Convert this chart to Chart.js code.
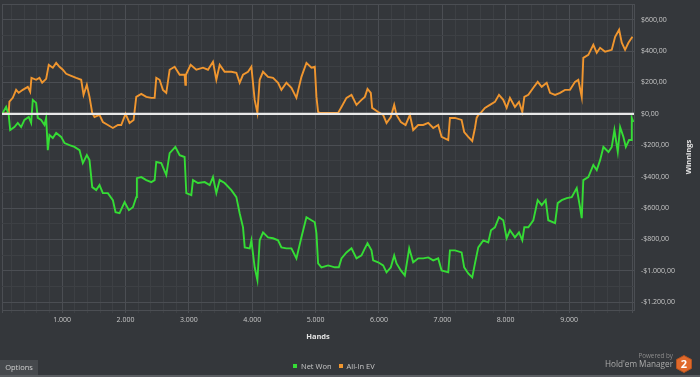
<!DOCTYPE html>
<html>
<head>
<meta charset="utf-8">
<script src="https://cdn.jsdelivr.net/npm/chart.js@4.4.0/dist/chart.umd.min.js"></script>
<style>
html,body{margin:0;padding:0;background:#34373b;width:700px;height:377px;overflow:hidden;font-family:"Open Sans",sans-serif;}
#wrap{position:relative;width:700px;height:377px;}
#c{position:absolute;left:0;top:0;}
#legend{position:absolute;left:293px;top:360px;height:12px;display:flex;align-items:center;font-size:7.5px;color:#c6c6c6;white-space:nowrap;}
#legend .sw{display:inline-block;width:4px;height:4px;margin-right:4px;}
#legend .it{display:flex;align-items:center;margin-right:7px;}
#options{position:absolute;left:0;top:360px;width:38px;height:15px;background:#46494d;color:#cfcfcf;font-size:7.5px;line-height:15px;text-align:center;}
#bline{position:absolute;left:0;top:375px;width:700px;height:2px;background:#5a5d61;}
#pw1{position:absolute;right:27px;top:352px;font-size:6.3px;color:#8c8c8c;line-height:8px;}
#pw2{position:absolute;right:27px;top:359px;font-size:8.2px;color:#ababab;line-height:10px;}
#logo{position:absolute;left:676px;top:355px;}
</style>
</head>
<body>
<div id="wrap">
<canvas id="c" width="700" height="377"></canvas>
<div id="legend"></div>
<div id="options">Options</div>
<div id="bline"></div>
<div id="pw1">Powered by</div>
<div id="pw2">Hold'em Manager</div>
<svg id="logo" width="16" height="18" viewBox="0 0 16 18">
<polygon points="8,0.5 15.5,4.6 15.5,13.4 8,17.5 0.5,13.4 0.5,4.6" fill="#e0692b" stroke="#b5531f" stroke-width="1"/>
<text x="8" y="13" text-anchor="middle" font-family="Open Sans" font-weight="bold" font-size="11" fill="#ffffff">2</text>
</svg>
</div>
<script>
// ---- data (hands played, winnings in $) ----
const evHands = [52,156,167,220,273,314,378,457,495,515,
589,641,684,747,788,852,905,957,1010,1063,
1142,1221,1300,1337,1389,1431,1474,1510,1589,1642,
1721,1800,1879,1932,2000,2063,2127,2169,2248,2327,
2406,2459,2485,2537,2590,2643,2696,2775,2854,2932,
2944,2953,3027,3117,3222,3301,3380,3433,3486,3564,
3670,3749,3801,3854,3933,3986,4038,4081,4117,4170,
4249,4328,4407,4460,4539,4618,4697,4776,4855,4934,
4987,5013,5039,5066,5145,5250,5355,5408,5487,5566,
5645,5724,5777,5819,5871,5892,5987,6066,6119,6187,
6240,6277,6345,6420,6488,6540,6619,6698,6777,6856,
6935,6988,7093,7120,7199,7304,7345,7409,7472,7515,
7541,7567,7620,7672,7751,7830,7894,7962,8015,8067,
8146,8210,8262,8294,8357,8436,8505,8568,8647,8700,
8779,8858,8936,9015,9094,9146,9200,9225,9304,9383,
9437,9490,9569,9674,9727,9790,9832,9884,9937,10000];
const evValues = [0,5,78,102,153,134,153,172,141,229,
217,229,198,223,312,294,325,300,281,255,
242,229,217,121,185,108,6,-20,-7,-52,
-71,-90,-71,-71,0,-58,-39,108,127,108,
102,102,229,217,153,134,281,300,249,249,
185,249,312,281,294,281,332,217,312,268,
268,262,198,249,268,300,89,6,217,268,
236,229,198,153,198,166,102,236,325,294,
300,108,12,6,6,6,6,44,102,121,
57,89,108,159,134,38,12,-7,-58,-20,
57,-7,-52,-71,-7,-103,-71,-71,-58,-90,
-71,-147,-167,-26,-26,-39,-116,-147,-173,-90,
-26,-7,12,38,57,76,121,89,38,102,
44,76,12,108,121,166,204,172,198,134,
121,134,153,153,204,217,108,357,376,440,
389,421,396,408,491,536,453,408,453,491];

const netHands = [52,115,156,179,246,299,352,404,472,510,
536,589,615,668,720,747,773,799,852,905,
984,1036,1115,1194,1273,1326,1389,1431,1474,1537,
1589,1642,1721,1800,1842,1905,1985,2053,2116,2169,
2179,2248,2327,2406,2459,2485,2564,2643,2696,2786,
2854,2932,2959,3038,3064,3143,3249,3328,3380,3433,
3486,3564,3670,3749,3801,3854,3881,3960,3986,4038,
4081,4117,4170,4249,4328,4407,4460,4539,4618,4697,
4776,4855,4934,4987,5013,5039,5092,5197,5303,5366,
5408,5487,5566,5645,5724,5777,5819,5882,5908,5987,
6066,6119,6187,6240,6277,6345,6408,6477,6540,6619,
6698,6777,6856,6935,6988,7093,7120,7199,7304,7345,
7409,7472,7515,7567,7646,7725,7768,7830,7894,7962,
8015,8067,8146,8210,8262,8294,8357,8436,8505,8568,
8631,8672,8779,8821,8884,8963,9042,9121,9173,9200,
9225,9304,9383,9437,9490,9542,9622,9674,9716,9769,
9806,9858,9896,9947,9979,9990,10016];
const netValues = [0,44,-7,-103,-84,-58,-84,-39,-20,-58,
89,70,-26,-39,-71,-26,-231,-135,-154,-122,
-147,-186,-199,-211,-231,-314,-263,-295,-467,-486,
-454,-505,-505,-550,-627,-633,-563,-614,-595,-531,
-410,-403,-422,-435,-422,-307,-314,-390,-250,-211,
-263,-275,-505,-518,-422,-441,-435,-454,-403,-505,
-422,-441,-486,-531,-633,-723,-851,-857,-806,-978,
-1060,-806,-755,-787,-793,-806,-851,-857,-857,-921,
-787,-659,-678,-691,-761,-953,-978,-966,-978,-978,
-921,-883,-857,-921,-902,-857,-825,-870,-934,-946,
-966,-1010,-978,-902,-953,-998,-1030,-857,-946,-921,
-921,-915,-934,-921,-998,-1010,-870,-870,-883,-978,
-1017,-1042,-953,-851,-806,-819,-742,-723,-659,-678,
-793,-742,-787,-755,-806,-723,-723,-678,-550,-582,
-550,-678,-697,-569,-550,-537,-531,-473,-595,-665,
-422,-403,-326,-358,-295,-211,-243,-211,-103,-243,
-84,-147,-211,-167,-167,-26,-52];

const seriesNames = ['Net Won', 'All-In EV'];
const handLabels = [1000,2000,3000,4000,5000,6000,7000,8000,9000];
const winLabels = [600,400,200,0,-200,-400,-600,-800,-1000,-1200];
const handMin = 50, handMax = 10025, handStep = 200;
const winMin = -1250, winMax = 700, winStep = 100;

// ---- styling ----
const MAJOR = '#4b4e53';
const MINOR = '#3d4044';
const TXT = '#c8c8c8';
const GREEN = '#35dc35';
const ORANGE = '#f0962f';

function thousands(n){ return String(n).replace(/\B(?=(\d{3})+(?!\d))/g, '.'); }
function fmtMoney(v){ return (v < 0 ? '-$' : '$') + thousands(Math.abs(v)) + ',00'; }

const toXY = (hs, vs) => hs.map((h, i) => ({x: h, y: vs[i]}));

const overlay = {
  id: 'overlay',
  afterDatasetsDraw(chart){
    const {ctx, chartArea: a, scales: {y}} = chart;
    const y0 = y.getPixelForValue(0);
    ctx.save();
    ctx.strokeStyle = '#e8e8e8';
    ctx.lineWidth = 2.4;
    ctx.beginPath(); ctx.moveTo(a.left, y0); ctx.lineTo(a.right, y0); ctx.stroke();
    ctx.restore();
  },
  afterDraw(chart){
    const {ctx, chartArea: a} = chart;
    ctx.save();
    ctx.fillStyle = '#e2e2e2';
    ctx.font = 'bold 7.5px "Open Sans"';
    ctx.textAlign = 'center'; ctx.textBaseline = 'middle';
    ctx.fillText('Hands', (a.left + a.right) / 2, 336.5);
    ctx.translate(689, (a.top + a.bottom) / 2);
    ctx.rotate(-Math.PI / 2);
    ctx.fillText('Winnings', 0, 0);
    ctx.restore();
  }
};

const chart = new Chart(document.getElementById('c'), {
  type: 'line',
  data: {
    datasets: [
      {label: seriesNames[0], data: toXY(netHands, netValues), borderColor: GREEN, backgroundColor: GREEN, borderWidth: 1.9, pointRadius: 0, tension: 0, fill: false},
      {label: seriesNames[1], data: toXY(evHands, evValues), borderColor: ORANGE, backgroundColor: ORANGE, borderWidth: 1.9, pointRadius: 0, tension: 0, fill: false}
    ]
  },
  options: {
    responsive: false,
    animation: false,
    devicePixelRatio: 1,
    layout: {padding: {top: 4, left: 2, right: 0, bottom: 27}},
    plugins: {legend: {display: false}, tooltip: {enabled: false}},
    scales: {
      x: {
        type: 'linear', min: handMin, max: handMax,
        afterBuildTicks: s => {
          const t = [{value: handMin}];
          for (let v = handStep; v <= handMax; v += handStep) t.push({value: v});
          s.ticks = t;
        },
        afterFit: s => { s.height = 40; s.paddingLeft = 0; s.paddingRight = 0; },
        grid: {
          color: c => (c.index === 0 || (c.tick && c.tick.value % 1000 === 0)) ? MAJOR : MINOR,
          tickLength: 3, drawTicks: true
        },
        border: {color: MAJOR},
        ticks: {
          autoSkip: false, maxRotation: 0, padding: 3, color: TXT,
          font: {family: 'Open Sans', size: 7},
          callback: v => handLabels.includes(v) ? thousands(v) : ''
        }
      },
      y: {
        type: 'linear', position: 'right', min: winMin, max: winMax,
        afterBuildTicks: s => {
          const t = [];
          for (let v = -1200; v <= winMax; v += winStep) t.push({value: v});
          s.ticks = t;
        },
        afterFit: s => { s.width = 66; s.paddingTop = 0; s.paddingBottom = 0; },
        grid: {
          color: c => (c.tick && (c.tick.value % 200 === 0 || c.tick.value === winMax)) ? MAJOR : MINOR,
          drawTicks: false
        },
        border: {color: MAJOR},
        ticks: {
          autoSkip: false, padding: 7, color: TXT,
          font: {family: 'Open Sans', size: 7},
          callback: v => winLabels.includes(v) ? fmtMoney(v) : ''
        }
      }
    }
  },
  plugins: [overlay]
});

// legend from datasets
const lg = document.getElementById('legend');
chart.data.datasets.forEach(ds => {
  const it = document.createElement('span'); it.className = 'it';
  const sw = document.createElement('span'); sw.className = 'sw'; sw.style.background = ds.borderColor;
  const tx = document.createElement('span'); tx.textContent = ds.label;
  it.appendChild(sw); it.appendChild(tx); lg.appendChild(it);
});
</script>
</body>
</html>
